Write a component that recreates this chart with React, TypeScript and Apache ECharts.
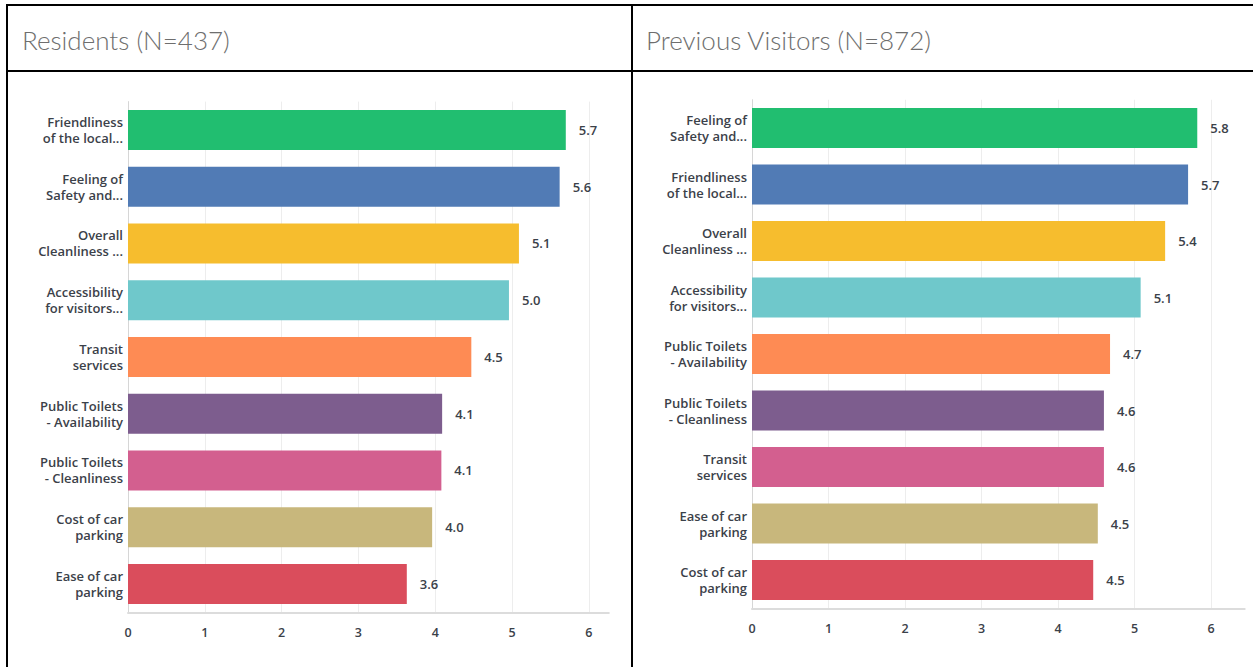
import React, { useEffect, useRef } from "react";
import * as echarts from "echarts";

const residentTitle = "Residents (N=437)";
const visitorTitle = "Previous Visitors (N=872)";

const residentCategories = [
  "Friendliness\nof the local...",
  "Feeling of\nSafety and...",
  "Overall\nCleanliness ...",
  "Accessibility\nfor visitors...",
  "Transit\nservices",
  "Public Toilets\n- Availability",
  "Public Toilets\n- Cleanliness",
  "Cost of car\nparking",
  "Ease of car\nparking",
];
const residentValues = [5.7, 5.62, 5.09, 4.96, 4.47, 4.09, 4.08, 3.96, 3.63];

const visitorCategories = [
  "Feeling of\nSafety and...",
  "Friendliness\nof the local...",
  "Overall\nCleanliness ...",
  "Accessibility\nfor visitors...",
  "Public Toilets\n- Availability",
  "Public Toilets\n- Cleanliness",
  "Transit\nservices",
  "Ease of car\nparking",
  "Cost of car\nparking",
];
const visitorValues = [5.82, 5.7, 5.4, 5.08, 4.68, 4.6, 4.6, 4.52, 4.46];

const barColors = [
  "#21be70",
  "#517bb5",
  "#f6bd2e",
  "#6fc8cb",
  "#fe8b54",
  "#7d5d8e",
  "#d35f8f",
  "#c8b77c",
  "#da4d5c",
];

const xTickLabels = [0, 1, 2, 3, 4, 5, 6];

const LABEL_FONT = "'Open Sans', 'Noto Sans', sans-serif";
const TEXT_COLOR = "#3b4149";

export default function App() {
  const ref = useRef<HTMLDivElement>(null);

  useEffect(() => {
    if (!ref.current) return;
    const chart = echarts.init(ref.current, undefined, { renderer: "svg" });

    const makeX = (gridIndex: number, max: number) => ({
      type: "value",
      gridIndex,
      min: 0,
      max,
      interval: 1,
      axisLine: { show: true, lineStyle: { color: "#dcdcdc", width: 2 } },
      axisTick: { show: false },
      splitLine: {
        show: true,
        showMaxLine: false,
        lineStyle: { color: "#ededed", width: 1 },
      },
      axisLabel: {
        showMaxLabel: false,
        margin: 14,
        color: TEXT_COLOR,
        fontFamily: LABEL_FONT,
        fontWeight: 600,
        fontSize: 12.5,
        formatter: (v: number) =>
          xTickLabels.indexOf(v) >= 0 ? String(v) : "",
      },
    });

    const makeY = (gridIndex: number, cats: string[]) => ({
      type: "category",
      gridIndex,
      data: cats,
      inverse: true,
      axisLine: { show: true, lineStyle: { color: "#d6d6d6", width: 1 } },
      axisTick: { show: false },
      axisLabel: {
        margin: 5,
        color: TEXT_COLOR,
        fontFamily: LABEL_FONT,
        fontWeight: 600,
        fontSize: 13,
        lineHeight: 16,
        align: "right",
      },
    });

    const makeSeries = (idx: number, values: number[]) => ({
      type: "bar",
      xAxisIndex: idx,
      yAxisIndex: idx,
      barWidth: 40,
      data: values.map((v, i) => ({
        value: v,
        itemStyle: { color: barColors[i] },
      })),
      label: {
        show: true,
        position: "right",
        distance: 13,
        color: TEXT_COLOR,
        fontFamily: LABEL_FONT,
        fontWeight: 600,
        fontSize: 13,
        formatter: (p: any) => Number(p.value).toFixed(1),
      },
    });

    const borderStyle = { stroke: "#000", lineWidth: 2 };

    chart.setOption({
      animation: false,
      backgroundColor: "#ffffff",
      grid: [
        { left: 128, top: 101.6, width: 480.8, height: 510.75 },
        { left: 752, top: 99.75, width: 492.7, height: 508.5 },
      ],
      xAxis: [makeX(0, 6.26), makeX(1, 6.44)],
      yAxis: [makeY(0, residentCategories), makeY(1, visitorCategories)],
      series: [makeSeries(0, residentValues), makeSeries(1, visitorValues)],
      graphic: [
        { type: "line", shape: { x1: 7, y1: 4, x2: 7, y2: 667 }, style: borderStyle },
        { type: "line", shape: { x1: 632, y1: 4, x2: 632, y2: 667 }, style: borderStyle },
        { type: "line", shape: { x1: 6, y1: 5, x2: 1253, y2: 5 }, style: borderStyle },
        { type: "line", shape: { x1: 6, y1: 71, x2: 1253, y2: 71 }, style: borderStyle },
        {
          type: "text",
          x: 22,
          y: 40,
          style: {
            text: residentTitle,
            fill: "#6e6e6e",
            font: "300 26px Lato, 'Open Sans', sans-serif",
            textVerticalAlign: "middle",
          },
        },
        {
          type: "text",
          x: 646,
          y: 40,
          style: {
            text: visitorTitle,
            fill: "#6e6e6e",
            font: "300 26px Lato, 'Open Sans', sans-serif",
            textVerticalAlign: "middle",
          },
        },
      ],
    });

    return () => chart.dispose();
  }, []);

  return (
    <div
      ref={ref}
      style={{ position: "fixed", left: 0, top: 0, width: 1253, height: 667 }}
    />
  );
}
